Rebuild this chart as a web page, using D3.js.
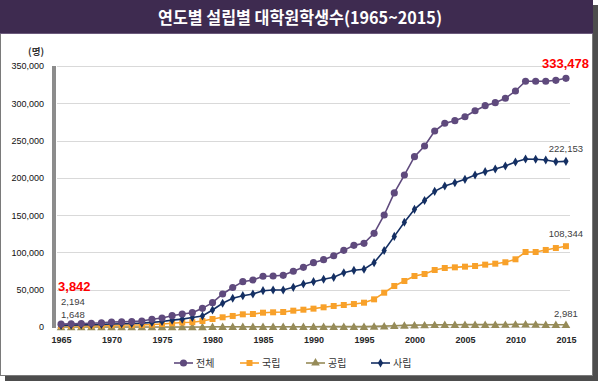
<!DOCTYPE html>
<html>
<head>
<meta charset="utf-8">
<script src="https://cdn.jsdelivr.net/npm/d3@7"></script>
<style>
  body { margin: 0; background: #fff; }
  svg { display: block; }
</style>
</head>
<body>
<div class="lineChart"></div>
<script>
// categories
var years = [1965,1966,1967,1968,1969,1970,1971,1972,1973,1974,1975,1976,1977,1978,1979,
  1980,1981,1982,1983,1984,1985,1986,1987,1988,1989,1990,1991,1992,1993,1994,1995,1996,1997,
  1998,1999,2000,2001,2002,2003,2004,2005,2006,2007,2008,2009,2010,2011,2012,2013,2014,2015];

// 전체
var totalValues = [3842,4200,4600,5000,5600,6640,6900,7300,8000,10300,12100,15200,17400,19200,25000,
  32600,44300,53000,60800,63000,68000,68400,69300,74700,80000,86300,90300,95600,102800,109500,112200,
  125600,150200,179800,203800,228400,242700,262800,273200,276700,282000,290000,296800,300800,306700,
  316500,329500,329500,329500,330800,333478];
// 국립
var nationalValues = [1648,1700,1800,1900,2100,2500,2600,2600,2800,3300,4000,5000,6000,6400,8000,
  10700,13000,14800,17000,17400,19200,19700,20100,21900,23200,24600,26400,28200,29500,30800,32600,
  37100,46000,55000,61700,68400,71100,76400,79100,80000,80900,81800,83600,84900,86800,
  90800,100600,100600,103300,105900,108344];
// 공립
var publicValues = [0,0,0,0,0,0,0,0,0,0,0,0,0,0,0,
  300,300,300,300,300,300,300,300,300,300,300,500,500,500,500,500,
  800,1200,1700,2200,2500,2600,2900,3000,3100,3200,3200,3200,3200,3300,
  3600,3700,3500,3100,3000,2981];
// 사립
var privateValues = [2194,2500,2800,3100,3500,4100,4300,4700,5200,6200,7300,9200,10600,12800,14800,
  22800,31800,38500,42000,44300,48700,49600,49600,53200,57700,60800,64000,66600,72800,76000,77400,
  86300,102600,121500,140500,157800,169700,181900,189100,193500,198000,203800,208300,211900,215900,
  221300,225300,224900,224000,221700,222153];

var seriesNames = ["전체", "국립", "공립", "사립"];
var yTicks = [0,50000,100000,150000,200000,250000,300000,350000];
var xTickYears = [1965,1970,1975,1980,1985,1990,1995,2000,2005,2010,2015];

var title = "연도별 설립별 대학원학생수(1965~2015)";

var series = [
  {name: seriesNames[0], values: totalValues,    color: "#5f4a7d", marker: "circle"},
  {name: seriesNames[1], values: nationalValues, color: "#f8a12a", marker: "square"},
  {name: seriesNames[2], values: publicValues,   color: "#968b58", marker: "triangle"},
  {name: seriesNames[3], values: privateValues,  color: "#142f63", marker: "diamond"}
];

var W = 600, H = 384;
var svg = d3.select(".lineChart").append("svg")
  .attr("width", W).attr("height", H);

// frame + shadow
svg.append("rect").attr("x", 5).attr("y", 5).attr("width", 593).attr("height", 376).attr("fill", "#4d4d4d");
svg.append("rect").attr("x", 0.5).attr("y", 0.5).attr("width", 592).attr("height", 375)
  .attr("fill", "#fff").attr("stroke", "#7a7a7a").attr("stroke-width", 1);
svg.append("rect").attr("x", 0).attr("y", 0).attr("width", 593).attr("height", 33).attr("fill", "#3e2b50");
svg.append("line").attr("x1", 0).attr("x2", 593).attr("y1", 33.5).attr("y2", 33.5).attr("stroke", "#6b5a7c");

svg.append("text")
  .attr("x", 300).attr("y", 23.5)
  .attr("text-anchor", "middle")
  .attr("fill", "#fff")
  .style("font-family", "'Noto Sans CJK KR', sans-serif")
  .style("font-weight", 700)
  .style("font-size", "17px")
  .attr("textLength", 284).attr("lengthAdjust", "spacingAndGlyphs")
  .text(title);

// scales
var x = d3.scalePoint().domain(years).range([56, 571]).padding(0.5);
var y = d3.scaleLinear().domain([0, 350000]).range([327, 66]);

var plotLeft = 57, plotRight = 570;

// gridlines
svg.append("g").selectAll("line").data(yTicks).enter().append("line")
  .attr("x1", plotLeft).attr("x2", plotRight)
  .attr("y1", d => Math.round(y(d)) + 0.5).attr("y2", d => Math.round(y(d)) + 0.5)
  .attr("stroke", "#d9d9d9").attr("stroke-width", 1);

// y axis (thick grey wall)
svg.append("rect").attr("x", 52).attr("y", y(350000)).attr("width", 4)
  .attr("height", y(0) - y(350000) + 1).attr("fill", "#8c8c8c");

var yAxis = d3.axisLeft(y).tickValues(yTicks).tickSize(0).tickPadding(0)
  .tickFormat(d3.format(","));
var gy = svg.append("g").attr("transform", "translate(44,0)").call(yAxis);
gy.select(".domain").remove();
gy.selectAll("text")
  .style("font-family", "'Liberation Sans', Arial, sans-serif")
  .style("font-size", "9px").attr("fill", "#111");

svg.append("text").attr("x", 44).attr("y", 55).attr("text-anchor", "end")
  .style("font-family", "'Noto Sans CJK KR', sans-serif").style("font-size", "9.5px")
  .style("font-weight", 700).attr("fill", "#333").text("(명)");

// x axis
var xAxis = d3.axisBottom(x).tickValues(xTickYears).tickSize(0).tickPadding(0);
var gx = svg.append("g").attr("transform", "translate(0,337)").call(xAxis);
gx.select(".domain").remove();
gx.selectAll("text")
  .style("font-family", "'Liberation Sans', Arial, sans-serif")
  .style("font-size", "9px").style("font-weight", 700).attr("fill", "#262626");

// lines
var line = d3.line().x((d, i) => x(years[i])).y(d => y(d));

function markerPath(type) {
  var sym = {circle: d3.symbolCircle, square: d3.symbolSquare,
             triangle: d3.symbolTriangle, diamond: d3.symbolDiamond}[type];
  var size = {circle: 40, square: 36, triangle: 32, diamond: 24}[type];
  return d3.symbol().type(sym).size(size)();
}

// draw order: 공립, 국립, 사립, 전체 on top
[2, 1, 3, 0].forEach(function (k) {
  var s = series[k];
  svg.append("path")
    .attr("d", line(s.values))
    .attr("fill", "none")
    .attr("stroke", s.color)
    .attr("stroke-width", 1.6);
  svg.append("g").selectAll("path").data(s.values).enter().append("path")
    .attr("d", markerPath(s.marker))
    .attr("transform", (d, i) => "translate(" + x(years[i]) + "," + (y(d) + (s.marker === "triangle" ? 0.8 : 0)) + ")")
    .attr("fill", s.color);
});

// data labels
var last = years.length - 1;
var lblFont = "'Liberation Sans', Arial, sans-serif";
function label(xp, yp, txt, big, anchor) {
  svg.append("text").attr("x", xp).attr("y", yp)
    .attr("text-anchor", anchor || "middle")
    .style("font-family", lblFont)
    .style("font-size", big ? "13px" : "9.5px")
    .style("font-weight", big ? 700 : 400)
    .attr("fill", big ? "#ff0000" : "#404040")
    .text(txt);
}
var fmt = d3.format(",");
label(x(years[last]) - 0.5, y(totalValues[last]) - 10, fmt(totalValues[last]), true);
label(x(years[last]), y(privateValues[last]) - 9, fmt(privateValues[last]), false);
label(x(years[last]), y(nationalValues[last]) - 9, fmt(nationalValues[last]), false);
label(x(years[last]), y(publicValues[last]) - 8, fmt(publicValues[last]), false);

label(x(years[0]) - 3, y(totalValues[0]) - 33, fmt(totalValues[0]), true, "start");
label(x(years[0]), y(privateValues[0]) - 20, fmt(privateValues[0]), false, "start");
label(x(years[0]), y(nationalValues[0]) - 8, fmt(nationalValues[0]), false, "start");

// legend
var legendX = [174, 240, 306, 371];
var legendY = 363;
series.forEach(function (s, i) {
  var g = svg.append("g").attr("transform", "translate(" + legendX[i] + "," + legendY + ")");
  g.append("line").attr("x1", 0).attr("x2", 19).attr("y1", 0).attr("y2", 0)
    .attr("stroke", s.color).attr("stroke-width", 1.6);
  g.append("path").attr("d", markerPath(s.marker)).attr("transform", "translate(9.5,0)").attr("fill", s.color);
  g.append("text").attr("x", 22).attr("y", 3.5)
    .style("font-family", "'Noto Sans CJK KR', sans-serif").style("font-size", "10px")
    .attr("fill", "#333").text(s.name);
});
</script>
</body>
</html>
